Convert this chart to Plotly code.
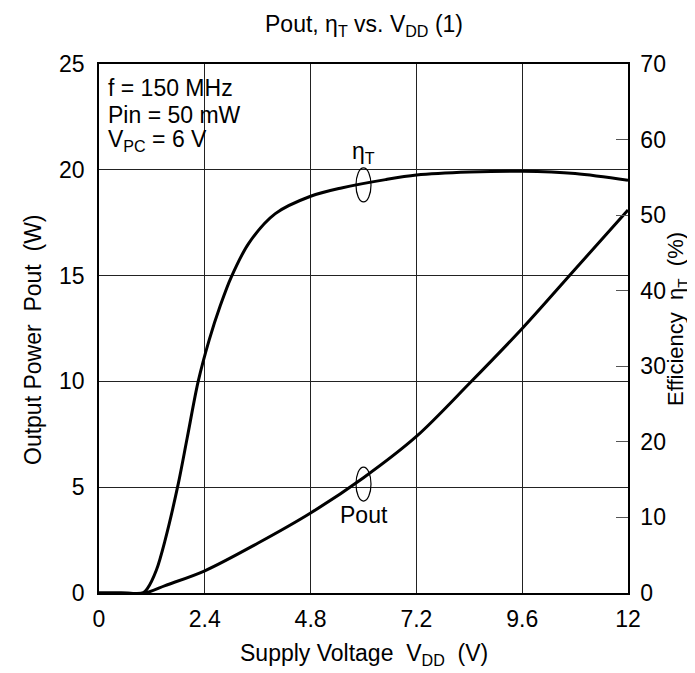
import plotly.graph_objects as go

# ---- data ----
vdd_eta = [0, 0.5, 1.0, 1.1, 1.3, 1.5, 1.8, 2.0, 2.25, 2.5, 2.75, 3.0, 3.4, 4.0, 4.8, 5.5, 6.5, 7.2, 8.4, 9.6, 10.8, 12]
eta_pct = [0, 0, 0, 0.6, 3, 7, 14.5, 20.5, 28, 33.5, 38, 41.8, 46.3, 50.2, 52.5, 53.6, 54.7, 55.3, 55.7, 55.8, 55.5, 54.6]

vdd_pout = [0, 0.5, 1.04, 1.5, 2.4, 3.6, 4.8, 6.0, 7.2, 8.4, 9.6, 10.8, 12]
pout_w = [0, 0, 0, 0.35, 1.05, 2.35, 3.78, 5.45, 7.4, 9.9, 12.5, 15.3, 18.1]

x_ticks = [0, 2.4, 4.8, 7.2, 9.6, 12]
x_ticklabels = ["0", "2.4", "4.8", "7.2", "9.6", "12"]
y_left_ticks = [0, 5, 10, 15, 20, 25]
y_right_ticks = [0, 10, 20, 30, 40, 50, 60, 70]

FONT = "Liberation Sans, Arial, sans-serif"
FS = 23

fig = go.Figure()
fig.add_trace(go.Scatter(x=vdd_eta, y=eta_pct, yaxis="y2", mode="lines",
                         line=dict(color="black", width=3, shape="spline", smoothing=0.9),
                         hoverinfo="skip", showlegend=False))
fig.add_trace(go.Scatter(x=vdd_pout, y=pout_w, yaxis="y", mode="lines",
                         line=dict(color="black", width=3, shape="spline", smoothing=0.9),
                         hoverinfo="skip", showlegend=False))

fig.update_layout(
    width=695, height=673,
    margin=dict(l=91, r=75, t=56, b=88),
    paper_bgcolor="white", plot_bgcolor="white",
    font=dict(family=FONT, size=FS, color="black"),
    showlegend=False,
    xaxis=dict(range=[0, 12], tickvals=x_ticks, ticktext=x_ticklabels,
               showgrid=True, gridcolor="#222222", gridwidth=1,
               showline=True, linecolor="black", linewidth=2, mirror=True,
               ticks="", ticklabelstandoff=4, zeroline=False, fixedrange=True),
    yaxis=dict(range=[0, 25], tickvals=y_left_ticks,
               showgrid=True, gridcolor="#222222", gridwidth=1,
               showline=True, linecolor="black", linewidth=1.5, mirror=True,
               ticks="", ticklabelstandoff=8, zeroline=False, fixedrange=True),
    yaxis2=dict(range=[0, 70], tickvals=y_right_ticks, overlaying="y", side="right",
                showgrid=False, showline=True, linecolor="black", linewidth=1.5,
                ticks="inside", ticklen=12, tickcolor="#555555", tickwidth=1,
                ticklabelstandoff=6, zeroline=False, fixedrange=True),
)

def paper_y(py):
    return (585 - py) / 529.0

def paper_x(px):
    return (px - 91) / 529.0

ann = []
# title
ann.append(dict(text="Pout, η<sub>T</sub> vs. V<sub>DD</sub> (1)", xref="paper", yref="paper",
                x=0.5, y=paper_y(18), xanchor="center", yanchor="middle", showarrow=False))
# x axis title
ann.append(dict(text="Supply Voltage\u00a0\u00a0V<sub>DD</sub>\u00a0\u00a0(V)", xref="paper", yref="paper",
                x=0.5, y=paper_y(646), xanchor="center", yanchor="middle", showarrow=False))
# left axis title
ann.append(dict(text="Output Power\u00a0\u00a0Pout\u00a0\u00a0(W)", xref="paper", yref="paper",
                x=paper_x(25), y=paper_y(332), xanchor="center", yanchor="middle",
                textangle=-90, showarrow=False))
# right axis title
ann.append(dict(text="Efficiency\u00a0\u00a0η<sub>T</sub>\u00a0\u00a0(%)", xref="paper", yref="paper",
                x=paper_x(669), y=paper_y(311), xanchor="center", yanchor="middle",
                textangle=-90, showarrow=False, font=dict(size=22)))
# condition block
for txt, py in [("f = 150 MHz", 80), ("Pin = 50 mW", 107), ("V<sub>PC</sub> = 6 V", 133)]:
    ann.append(dict(text=txt, xref="paper", yref="paper", x=paper_x(98), y=paper_y(py),
                    xanchor="left", yanchor="middle", showarrow=False))
# curve labels
ann.append(dict(text="η<sub>T</sub>", xref="x", yref="y2", x=6.0, y=58.3,
                xanchor="center", yanchor="middle", showarrow=False))
ann.append(dict(text="Pout", xref="x", yref="y", x=6.0, y=3.7,
                xanchor="center", yanchor="middle", showarrow=False))
fig.update_layout(annotations=ann)

# label loops
fig.add_shape(type="circle", xref="x", yref="y2", xsizemode="pixel", ysizemode="pixel",
              xanchor=6.0, yanchor=54.0, x0=-7.5, x1=7.5, y0=-17, y1=17,
              line=dict(color="black", width=1.2))
fig.add_shape(type="circle", xref="x", yref="y", xsizemode="pixel", ysizemode="pixel",
              xanchor=6.0, yanchor=5.15, x0=-7.5, x1=7.5, y0=-17, y1=17,
              line=dict(color="black", width=1.2))

fig.write_html("out.html")
